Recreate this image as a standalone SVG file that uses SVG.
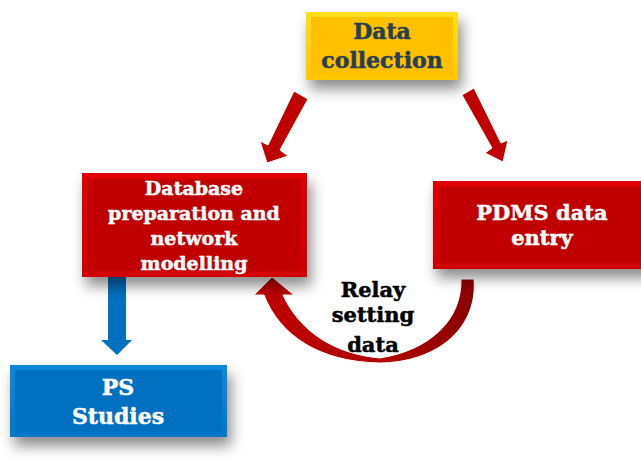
<svg xmlns="http://www.w3.org/2000/svg" width="641" height="462" viewBox="0 0 641 462">
<style>
.t{font-family:"DejaVu Serif","Liberation Serif",serif;font-weight:bold;text-anchor:middle;stroke-width:0.5}
.w{fill:#FFFFFF;stroke:#FFFFFF}
.d{fill:#263F52;stroke:#263F52}
.k{fill:#000000;stroke:#000000}
</style>
<defs>
<filter id="sh" x="-20%" y="-20%" width="150%" height="160%">
<feDropShadow dx="4" dy="9" stdDeviation="7" flood-color="#000" flood-opacity="0.45"/>
</filter>
<linearGradient id="gy" x1="0" y1="0" x2="0" y2="1"><stop offset="0" stop-color="#FFDF20"/><stop offset="1" stop-color="#FFC800"/></linearGradient>
<linearGradient id="gr" x1="0" y1="0" x2="0" y2="1"><stop offset="0" stop-color="#E00000"/><stop offset="1" stop-color="#D00000"/></linearGradient>
<linearGradient id="gb" x1="0" y1="0" x2="0" y2="1"><stop offset="0" stop-color="#1088DA"/><stop offset="1" stop-color="#0078C8"/></linearGradient>
<linearGradient id="gc" x1="0" y1="0" x2="1" y2="0"><stop offset="0" stop-color="#C00000"/><stop offset="0.6" stop-color="#B00000"/><stop offset="1" stop-color="#8A0000"/></linearGradient>
</defs>

<g id="connectors">
<path d="M294,91 L308,99 L280,150 L288,156 L267,163 L260,141 L268,145 Z" fill="#C00000" stroke="#FFFFFF" stroke-width="1"/>
<path d="M462,95 L474,88 L501,143 L508,140 L503,162 L485,153 L492,148 Z" fill="#C00000" stroke="#FFFFFF" stroke-width="1"/>
<path d="M254,295 L272,277 L294,295 L283,295 C300,332 335,354 380,358 C430,350 462,320 461,279 L474,279 C478,326 440,362 380,363 C320,362 280,336 264,295 Z" fill="url(#gc)" stroke="#FFFFFF" stroke-width="1"/>
<path d="M108,277 L126,277 L126,340 L132,340 L117,355 L101,340 L108,340 Z" fill="#0070C0"/>
</g>

<g id="data-collection">
<rect x="306" y="12" width="152" height="68" fill="url(#gy)" filter="url(#sh)"/>
<rect x="311" y="17" width="142" height="58" fill="#FFC000"/>
<text class="t d" x="382" y="39" font-size="22">Data</text>
<text class="t d" x="382" y="68" font-size="22">collection</text>
</g>

<g id="database">
<rect x="82" y="173" width="225" height="104" fill="url(#gr)" filter="url(#sh)"/>
<rect x="88" y="179" width="213" height="92" fill="#C00000"/>
<text class="t w" x="194" y="195" font-size="19">Database</text>
<text class="t w" x="194" y="220" font-size="19">preparation and</text>
<text class="t w" x="194" y="245" font-size="19">network</text>
<text class="t w" x="194" y="270" font-size="19">modelling</text>
</g>

<g id="pdms">
<rect x="433" y="181" width="220" height="88" fill="url(#gr)" filter="url(#sh)"/>
<rect x="439" y="187" width="210" height="76" fill="#C00000"/>
<text class="t w" x="542" y="220" font-size="21">PDMS data</text>
<text class="t w" x="542" y="245" font-size="21">entry</text>
</g>

<g id="relay-label">
<text class="t k" x="373" y="297" font-size="21">Relay</text>
<text class="t k" x="373" y="322" font-size="21">setting</text>
<text class="t k" x="373" y="352" font-size="21">data</text>
</g>

<g id="ps-studies">
<rect x="10" y="365" width="217" height="72" fill="url(#gb)" filter="url(#sh)"/>
<rect x="15" y="370" width="207" height="62" fill="#0070C0"/>
<text class="t w" x="118" y="395" font-size="22">PS</text>
<text class="t w" x="118" y="424" font-size="22">Studies</text>
</g>
</svg>
